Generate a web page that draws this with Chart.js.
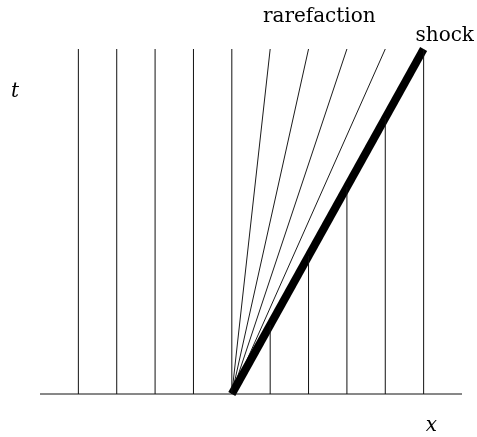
<!DOCTYPE html>
<html>
<head>
<meta charset="utf-8">
<script src="https://cdn.jsdelivr.net/npm/chart.js@4"></script>
<style>
  html, body { margin: 0; padding: 0; background: #fff; }
  #wrap { width: 477px; height: 437px; }
</style>
</head>
<body>
<div id="wrap"><canvas id="chart"></canvas></div>
<script>
// Characteristics: vertical lines left of the origin, rarefaction fan, shock
let leftFeet = [-4, -3, -2, -1, 0];
let fanTops = [1, 2, 3, 4];
let rightFeet = [1, 2, 3, 4, 5];
let shockTop = 5;
let tTop = 1;
let xRange = [-5, 6];

let datasets = [];

// x axis
datasets.push({ data: [{x: xRange[0], y: 0}, {x: xRange[1], y: 0}], borderColor: "#111", borderWidth: 1 });

leftFeet.forEach(x0 => {
    datasets.push({ data: [{x: x0, y: 0}, {x: x0, y: tTop}], borderColor: "#111", borderWidth: 1 });
});

fanTops.forEach(x1 => {
    datasets.push({ data: [{x: 0, y: 0}, {x: x1, y: tTop}], borderColor: "#000", borderWidth: 0.9 });
});

// right-hand characteristics run into the shock
rightFeet.forEach(x0 => {
    datasets.push({ data: [{x: x0, y: 0}, {x: x0, y: tTop * x0 / shockTop}], borderColor: "#111", borderWidth: 1 });
});

datasets.push({ data: [{x: 0, y: 0}, {x: shockTop, y: tTop}], borderColor: "#000", borderWidth: 8, borderCapStyle: "butt" });

datasets.forEach(d => {
    d.showLine = true;
    d.pointRadius = 0;
    d.fill = false;
    d.clip = false;
});

// text labels placed in data coordinates
let labels = [
    { text: "rarefaction", x: 2.28, y: 1.078, font: "20px 'DejaVu Serif'" },
    { text: "shock", x: 5.55, y: 1.024, font: "20px 'DejaVu Serif'" },
    { text: "t", x: -5.65, y: 0.86, font: "italic 20px 'DejaVu Serif'" },
    { text: "x", x: 5.2, y: -0.108, font: "italic 20px 'DejaVu Serif'" }
];

const textPlugin = {
    id: "textLabels",
    afterDraw(chart) {
        const ctx = chart.ctx;
        const sx = chart.scales.x, sy = chart.scales.y;
        ctx.save();
        ctx.fillStyle = "#000";
        ctx.textAlign = "center";
        ctx.textBaseline = "alphabetic";
        labels.forEach(l => {
            ctx.font = l.font;
            ctx.fillText(l.text, sx.getPixelForValue(l.x), sy.getPixelForValue(l.y));
        });
        ctx.restore();
    }
};

new Chart(document.getElementById("chart"), {
    type: "scatter",
    data: { datasets: datasets },
    options: {
        responsive: true,
        maintainAspectRatio: false,
        animation: false,
        layout: { padding: { left: 40, right: 15, top: 49, bottom: 43 } },
        plugins: { legend: { display: false }, tooltip: { enabled: false } },
        scales: {
            x: { type: "linear", min: xRange[0], max: xRange[1], display: false },
            y: { type: "linear", min: 0, max: tTop, display: false }
        }
    },
    plugins: [textPlugin]
});
</script>
</body>
</html>
